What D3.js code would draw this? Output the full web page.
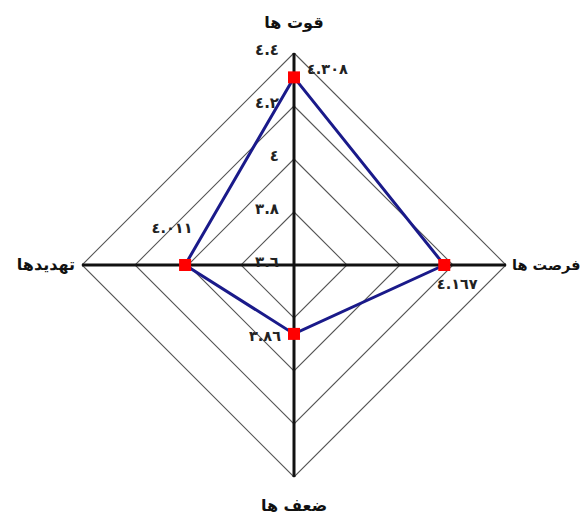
<!DOCTYPE html>
<html>
<head>
<meta charset="utf-8">
<script src="https://cdn.jsdelivr.net/npm/d3@7"></script>
<style>
  html, body { margin: 0; padding: 0; background: #fff; }
  svg { display: block; }
  text { font-family: "DejaVu Sans", sans-serif; }
</style>
</head>
<body>
<svg id="chart" width="587" height="515"></svg>
<script>
// Data
const categories = ["قوت ها", "فرصت ها", "ضعف ها", "تهدیدها"];
const values = [4.308, 4.167, 3.86, 4.011];
const tickValues = [3.6, 3.8, 4.0, 4.2, 4.4];
const tickLabels = ["٣.٦", "٣.٨", "٤", "٤.٢", "٤.٤"];
const valueLabels = ["٤.٣٠٨", "٤.١٦٧", "٣.٨٦", "٤.٠١١"];

const width = 587, height = 515;
const cx = 294, cy = 265, R = 212;

const svg = d3.select("#chart");
const r = d3.scaleLinear().domain([3.6, 4.4]).range([0, R]);
const ang = i => i * 2 * Math.PI / categories.length; // 0 = top, clockwise
const px = (i, v) => cx + r(v) * Math.sin(ang(i));
const py = (i, v) => cy - r(v) * Math.cos(ang(i));

const g = svg.append("g");

// grid diamonds
const line = d3.line();
tickValues.slice(1).forEach(t => {
  const pts = categories.map((c, i) => [px(i, t), py(i, t)]);
  pts.push(pts[0]);
  g.append("path").attr("d", line(pts))
    .attr("fill", "none").attr("stroke", "#555").attr("stroke-width", 1.1);
});

// axes
categories.forEach((c, i) => {
  g.append("line")
    .attr("x1", cx).attr("y1", cy)
    .attr("x2", px(i, 4.4)).attr("y2", py(i, 4.4))
    .attr("stroke", "#111").attr("stroke-width", 3);
});

// tick labels
tickValues.forEach((t, k) => {
  g.append("text")
    .attr("x", cx - 15).attr("y", cy - r(t) + 2)
    .attr("text-anchor", "end")
    .attr("font-size", 15).attr("font-weight", "bold").attr("fill", "#222")
    .text(tickLabels[k]);
});

// series polygon
const sp = values.map((v, i) => [px(i, v), py(i, v)]);
sp.push(sp[0]);
g.append("path").attr("d", line(sp))
  .attr("fill", "none").attr("stroke", "#1a1a8a").attr("stroke-width", 3)
  .attr("stroke-linejoin", "miter");

// markers
values.forEach((v, i) => {
  g.append("rect")
    .attr("x", px(i, v) - 6).attr("y", py(i, v) - 6)
    .attr("width", 12).attr("height", 12)
    .attr("fill", "#ff0000");
});

// value labels
const vOff = [[13, -3, "start"], [13, 24, "middle"], [-13, 7, "end"], [-13, -32, "middle"]];
values.forEach((v, i) => {
  g.append("text")
    .attr("x", px(i, v) + vOff[i][0]).attr("y", py(i, v) + vOff[i][1])
    .attr("text-anchor", vOff[i][2])
    .attr("font-size", 14.5).attr("font-weight", "bold").attr("fill", "#222")
    .text(valueLabels[i]);
});

// category labels
const cOff = [[0, -25, "middle"], [6, 5, "start"], [0, 34, "middle"], [-7, 5, "end"]];
const cSize = [16, 14.5, 16, 16];
categories.forEach((c, i) => {
  g.append("text")
    .attr("x", px(i, 4.4) + cOff[i][0]).attr("y", py(i, 4.4) + cOff[i][1])
    .attr("text-anchor", cOff[i][2])
    .attr("font-size", cSize[i]).attr("font-weight", "bold").attr("fill", "#111")
    .text(c);
});
</script>
</body>
</html>
